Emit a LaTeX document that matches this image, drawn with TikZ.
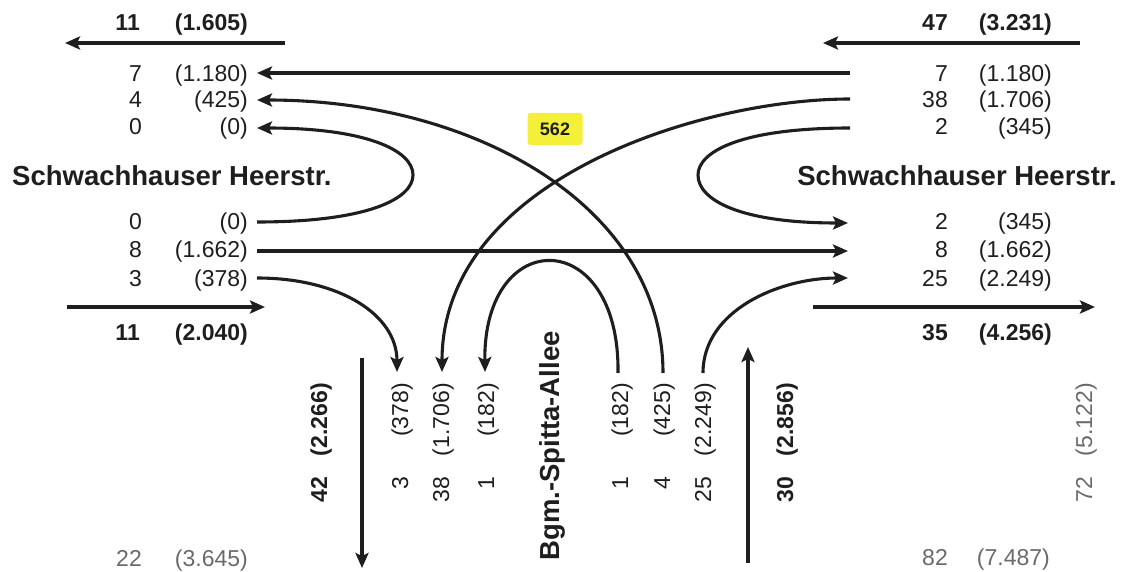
\documentclass[tikz,border=0pt]{standalone}
\usepackage{fontspec}
\setmainfont{Liberation Sans}
\usetikzlibrary{arrows.meta}
\definecolor{ink}{HTML}{1E1E1E}
\definecolor{greyink}{HTML}{6A6A6A}
\definecolor{hl}{HTML}{F4F03A}
\begin{document}
\begin{tikzpicture}[x=1pt,y=-1pt,
  flow/.style={draw=ink, line width=3.1pt, -{Stealth[length=15pt,width=13pt,inset=3pt]}},
  num/.style={anchor=base east, inner sep=0pt, text=ink, font=\fontsize{23}{27}\selectfont},
  bnum/.style={num, font=\fontsize{23}{27}\selectfont\bfseries},
  gnum/.style={num, text=greyink},
  vnum/.style={num, rotate=90},
  vbnum/.style={bnum, rotate=90},
  vgnum/.style={gnum, rotate=90},
  street/.style={inner sep=0pt, font=\fontsize{27.5}{32}\selectfont\bfseries, text=ink}
]
\useasboundingbox (0,0) rectangle (1125,572);

% ---------- left side texts ----------
\node[bnum] (tl1) at (140,31) {11};
\node[bnum] (tl2) at (248,31) {(1.605)};
\node[num] (l1n) at (142,82) {7};
\node[num] (l1p) at (248,82) {(1.180)};
\node[num] (l2n) at (142,108) {4};
\node[num] (l2p) at (248,108) {(425)};
\node[num] (l3n) at (142,135) {0};
\node[num] (l3p) at (248,135) {(0)};
\node[street, anchor=base west] (sl) at (12,186) {Schwachhauser Heerstr.};
\node[num] (l4n) at (142,230) {0};
\node[num] (l4p) at (248,230) {(0)};
\node[num] (l5n) at (142,258) {8};
\node[num] (l5p) at (248,258) {(1.662)};
\node[num] (l6n) at (142,287) {3};
\node[num] (l6p) at (248,287) {(378)};
\node[bnum] (bl1) at (140,340) {11};
\node[bnum] (bl2) at (248,340) {(2.040)};
\node[gnum] (gl1) at (142,566) {22};
\node[gnum] (gl2) at (248,566) {(3.645)};

% ---------- right side texts ----------
\node[bnum] (tr1) at (948,31) {47};
\node[bnum] (tr2) at (1052,31) {(3.231)};
\node[num] (r1n) at (948,82) {7};
\node[num] (r1p) at (1052,82) {(1.180)};
\node[num] (r2n) at (948,108) {38};
\node[num] (r2p) at (1052,108) {(1.706)};
\node[num] (r3n) at (948,135) {2};
\node[num] (r3p) at (1052,135) {(345)};
\node[street, anchor=base east] (sr) at (1117,186) {Schwachhauser Heerstr.};
\node[num] (r4n) at (948,230) {2};
\node[num] (r4p) at (1052,230) {(345)};
\node[num] (r5n) at (948,258) {8};
\node[num] (r5p) at (1052,258) {(1.662)};
\node[num] (r6n) at (948,287) {25};
\node[num] (r6p) at (1052,287) {(2.249)};
\node[bnum] (br1) at (948,340) {35};
\node[bnum] (br2) at (1052,340) {(4.256)};
\node[gnum] (gr1) at (948,565) {82};
\node[gnum] (gr2) at (1050,565) {(7.487)};

% ---------- bottom rotated texts ----------
\node[vbnum] (b1n) at (327,477) {42};
\node[vbnum] (b1p) at (327,383) {(2.266)};
\node[vnum] (b2n) at (408,477) {3};
\node[vnum] (b2p) at (408,383) {(378)};
\node[vnum] (b3n) at (449,477) {38};
\node[vnum] (b3p) at (449,383) {(1.706)};
\node[vnum] (b4n) at (494,477) {1};
\node[vnum] (b4p) at (494,383) {(182)};
\node[street, rotate=90, anchor=base] (bgm) at (559,446) {Bgm.-Spitta-Allee};
\node[vnum] (b5n) at (628,477) {1};
\node[vnum] (b5p) at (628,383) {(182)};
\node[vnum] (b6n) at (670,477) {4};
\node[vnum] (b6p) at (670,383) {(425)};
\node[vnum] (b7n) at (711,477) {25};
\node[vnum] (b7p) at (711,383) {(2.249)};
\node[vbnum] (b8n) at (793,477) {30};
\node[vbnum] (b8p) at (793,383) {(2.856)};
\node[vgnum] (b9n) at (1092,477) {72};
\node[vgnum] (b9p) at (1092,383) {(5.122)};

% ---------- highlight ----------
\node[fill=hl, rounded corners=3pt, minimum width=55pt, minimum height=32pt, inner sep=0pt,
      font=\fontsize{18}{20}\selectfont\bfseries, text=ink] (hl562) at (555,129) {562};

% ---------- connector end points ----------
\coordinate (tlS) at (285,43);   \coordinate (tlE) at (65,43);
\coordinate (trS) at (1080,43);  \coordinate (trE) at (823,43);
\coordinate (blS) at (67,307);   \coordinate (blE) at (265,307);
\coordinate (brS) at (813,307);  \coordinate (brE) at (1095,307);
\coordinate (vdS) at (362,358);  \coordinate (vdE) at (362,568);
\coordinate (vuS) at (748,563);  \coordinate (vuE) at (748,347);

\coordinate (L1) at (257,73);  \coordinate (R1) at (850,73);
\coordinate (L2) at (257,100); \coordinate (R2) at (850,99);
\coordinate (L3) at (257,128); \coordinate (R3) at (850,128);
\coordinate (L4) at (257,222); \coordinate (R4) at (848,223);
\coordinate (L5) at (257,251); \coordinate (R5) at (848,251);
\coordinate (L6) at (257,278); \coordinate (R6) at (848,278);
\coordinate (B2) at (397,372);
\coordinate (B3) at (442,372);
\coordinate (B4) at (485,372);
\coordinate (B5) at (618,373);
\coordinate (B6) at (663,373);
\coordinate (B7) at (703,373);

% ---------- connectors ----------
\draw[flow] (tlS) -- (tlE);
\draw[flow] (trS) -- (trE);
\draw[flow] (blS) -- (blE);
\draw[flow] (brS) -- (brE);
\draw[flow] (vdS) -- (vdE);
\draw[flow] (vuS) -- (vuE);

\draw[flow] (R1) -- (L1);
\draw[flow] (L5) -- (R5);
\draw[flow] (R2) .. controls (700,99) and (442,180) .. (B3);
\draw[flow] (B6) .. controls (663,210) and (480,100) .. (L2);
\draw[flow] (L4) .. controls (370,222) and (413,198) .. (413,175)
                 .. controls (413,150) and (365,128) .. (L3);
\draw[flow] (R3) .. controls (740,128) and (698,152) .. (698,175)
                 .. controls (698,200) and (740,223) .. (R4);
\draw[flow] (L6) .. controls (340,278) and (397,315) .. (B2);
\draw[flow] (B5) .. controls (620,225) and (483,225) .. (B4);
\draw[flow] (B7) .. controls (703,310) and (780,278) .. (R6);
\end{tikzpicture}
\end{document}
